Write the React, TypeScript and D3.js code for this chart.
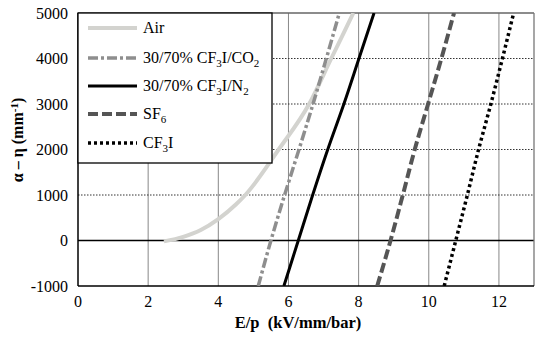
import React from 'react';
import * as d3 from 'd3';

// Air curve, sampled along E/p
const airE = [2.45, 3.0, 3.5, 4.0, 4.5, 4.77, 5.72, 6.59, 7.22, 7.85];
const airV = [-20, 80, 230, 470, 790, 1000, 2000, 3000, 4000, 5000];

// other gases, E/p read at each y level
const levels = [-1000, 0, 1000, 2000, 3000, 4000, 5000];
const co2E = [5.14, 5.5, 5.89, 6.3, 6.7, 7.08, 7.45];
const n2E = [5.87, 6.28, 6.69, 7.12, 7.58, 8.01, 8.44];
const sf6E = [8.53, 8.91, 9.26, 9.6, 9.98, 10.36, 10.72];
const cf3iE = [10.44, 10.77, 11.1, 11.42, 11.77, 12.1, 12.42];

const xTicks = [0, 2, 4, 6, 8, 10, 12];
const yTicks = [-1000, 0, 1000, 2000, 3000, 4000, 5000];

const W = 550, H = 341;
const M = { l: 78, r: 16, t: 13, b: 55 };

const serif = "'Liberation Serif', 'DejaVu Serif', serif";

type Pt = [number, number];

const series = [
  { key: 'air', pts: airE.map((e, i) => [e, airV[i]] as Pt), stroke: '#d3d3cf', width: 4, dash: '' },
  { key: 'co2', pts: co2E.map((e, i) => [e, levels[i]] as Pt), stroke: '#8e8e8e', width: 3.5, dash: '10 3 3 3' },
  { key: 'n2', pts: n2E.map((e, i) => [e, levels[i]] as Pt), stroke: '#000', width: 3, dash: '' },
  { key: 'sf6', pts: sf6E.map((e, i) => [e, levels[i]] as Pt), stroke: '#555', width: 4, dash: '10 4' },
  { key: 'cf3i', pts: cf3iE.map((e, i) => [e, levels[i]] as Pt), stroke: '#000', width: 3.5, dash: '3 3' },
];

export default function App() {
  const x = d3.scaleLinear().domain([0, 13]).range([M.l, W - M.r]);
  const y = d3.scaleLinear().domain([-1000, 5000]).range([H - M.b, M.t]);

  const line = d3.line<Pt>()
    .x(d => x(d[0]))
    .y(d => y(d[1]));

  const sub = (t: string) => <tspan dy={4} fontSize={11}>{t}</tspan>;

  const legendRows: { key: string; label: React.ReactNode }[] = [
    { key: 'air', label: <>Air</> },
    { key: 'co2', label: <>30/70% CF{sub('3')}<tspan dy={-4}>I/CO</tspan>{sub('2')}</> },
    { key: 'n2', label: <>30/70% CF{sub('3')}<tspan dy={-4}>I/N</tspan>{sub('2')}</> },
    { key: 'sf6', label: <>SF{sub('6')}</> },
    { key: 'cf3i', label: <>CF{sub('3')}<tspan dy={-4}>I</tspan></> },
  ];
  const legendY = [28, 58, 86, 114, 143];

  const txt = { fontFamily: serif } as React.CSSProperties;

  return (
    <div style={{ position: 'absolute', left: 0, top: 0, fontFamily: serif }}>
      <svg width={W} height={H} style={{ display: 'block', background: '#fff' }}>
        <defs>
          <clipPath id="plot">
            <rect x={M.l} y={M.t} width={W - M.l - M.r} height={H - M.t - M.b} />
          </clipPath>
        </defs>

        {/* vertical grid */}
        {xTicks.filter(t => t > 0).map(t => (
          <line key={t} x1={x(t)} x2={x(t)} y1={M.t} y2={H - M.b} stroke="#888" strokeWidth={1} />
        ))}
        {/* horizontal dotted grid */}
        {yTicks.filter(t => t > 0 && t < 5000).map(t => (
          <line key={t} x1={M.l} x2={W - M.r} y1={y(t)} y2={y(t)} stroke="#333" strokeWidth={1} strokeDasharray="1.5 1.5" />
        ))}
        {/* zero line */}
        <line x1={M.l} x2={W - M.r} y1={y(0)} y2={y(0)} stroke="#000" strokeWidth={1.3} />

        {/* frame */}
        <line x1={M.l} x2={W - M.r} y1={M.t} y2={M.t} stroke="#666" strokeWidth={1.3} />
        <line x1={W - M.r} x2={W - M.r} y1={M.t} y2={H - M.b} stroke="#777" strokeWidth={1.3} />
        <line x1={M.l} x2={M.l} y1={M.t} y2={H - M.b} stroke="#000" strokeWidth={1.5} />
        <line x1={M.l} x2={W - M.r} y1={H - M.b} y2={H - M.b} stroke="#000" strokeWidth={1.5} />

        {/* curves */}
        <g clipPath="url(#plot)">
          {series.map(s => (
            <path key={s.key}
              d={line.curve(s.key === 'air' ? d3.curveMonotoneX : d3.curveMonotoneY)(s.pts) || ''}
              fill="none" stroke={s.stroke}
              strokeWidth={s.width} strokeDasharray={s.dash || undefined} />
          ))}
        </g>

        {/* legend */}
        <rect x={M.l} y={M.t} width={194} height={150} fill="#fff" stroke="#000" strokeWidth={1.3} />
        {legendRows.map((r, i) => {
          const s = series.find(d => d.key === r.key)!;
          return (
            <g key={r.key}>
              <line x1={88} x2={137} y1={legendY[i]} y2={legendY[i]} stroke={s.stroke}
                strokeWidth={s.width} strokeDasharray={s.dash || undefined} />
              <text x={143} y={legendY[i] + 5} style={txt} fontSize={16} fill="#000">{r.label}</text>
            </g>
          );
        })}

        {/* tick labels */}
        {yTicks.map(t => (
          <text key={t} x={68} y={y(t) + 5.5} textAnchor="end" style={txt} fontSize={16} fill="#000">{t}</text>
        ))}
        {xTicks.map(t => (
          <text key={t} x={x(t)} y={H - M.b + 21} textAnchor="middle" style={txt} fontSize={16} fill="#000">{t}</text>
        ))}

        {/* axis titles */}
        <text x={298} y={328} textAnchor="middle" fontSize={16.5} fontWeight="bold" fill="#000"
          style={{ ...txt, whiteSpace: 'pre' }}>E/p  (kV/mm/bar)</text>
        <text transform={`translate(23, 140) rotate(-90)`} textAnchor="middle" fontSize={16}
          fontWeight="bold" fill="#000" style={{ ...txt, whiteSpace: 'pre' }}>
          α – η (mm<tspan dy={-5} fontSize={11}>-1</tspan><tspan dy={5}>)</tspan>
        </text>
      </svg>
    </div>
  );
}
